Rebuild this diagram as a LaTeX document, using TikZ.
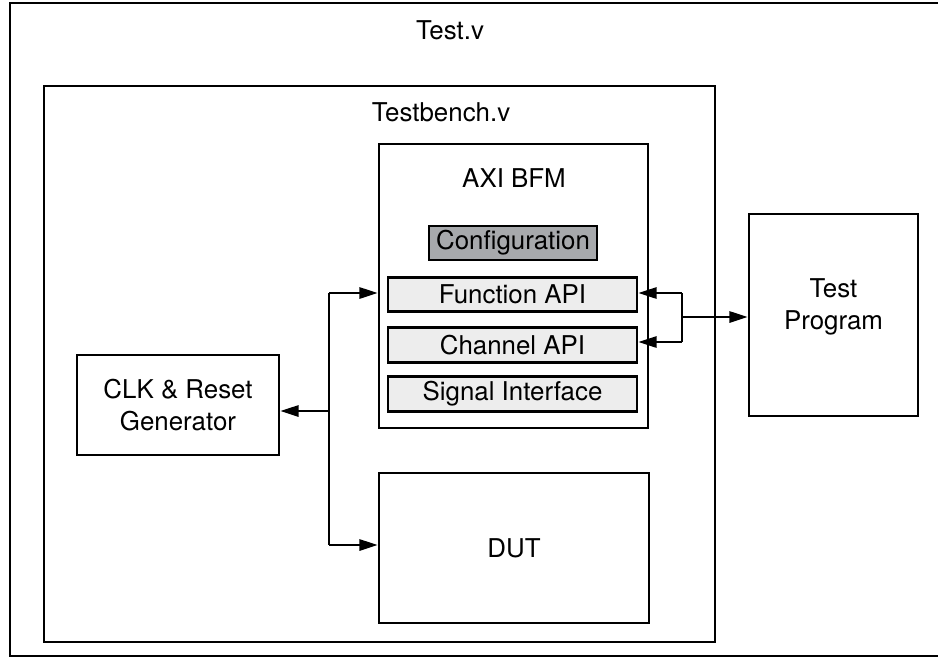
\documentclass[tikz,border=0pt]{standalone}
\usepackage{fontspec}
\setmainfont{TeX Gyre Heros}
\usetikzlibrary{arrows.meta}
\definecolor{cfggray}{HTML}{A7A9AC}
\definecolor{apigray}{HTML}{EDEDED}
\begin{document}
\begin{tikzpicture}[x=0.025cm, y=-0.025cm, font=\fontsize{18.4}{22.5}\selectfont,
    blk/.style={draw, line width=1.9pt, inner sep=0pt, align=center},
    api/.style={blk, fill=apigray, minimum width=6.225cm, minimum height=0.86cm},
    link/.style={line width=1.6pt, -{Triangle[length=13pt, width=8pt]}}]
  \useasboundingbox (0,0) rectangle (938,658);
  \draw[line width=1.8pt] (938,3) -- (10,3) -- (10,656) -- (938,656);
  \node (testv) at (450,30) {Test.v};
  \node[blk, minimum width=16.775cm, minimum height=13.9cm] (tb) at (379.5,364) {};
  \node (tblabel) at (441,112) {Testbench.v};
  \node[blk, minimum width=6.725cm, minimum height=7.1cm] (axi) at (513.5,286) {};
  \node (axilabel) at (514,178) {AXI BFM};
  \node[blk, fill=cfggray, minimum width=4.2cm, minimum height=0.85cm] (cfg) at (513,243) {Configuration};
  \node[api] (func) at (512.5,294.5) {Function API};
  \node[api] (chan) at (512.5,345) {Channel API};
  \node[api] (sig) at (512.5,394) {Signal Interface};
  \node[blk, minimum width=5.05cm, minimum height=2.5cm] (clk) at (178,405) {CLK \& Reset\\Generator};
  \node[blk, minimum width=6.75cm, minimum height=3.75cm] (dut) at (514,548) {DUT};
  \node[blk, minimum width=4.225cm, minimum height=5.05cm] (prog) at (833.5,315) {};
  \node[align=center] (proglabel) at (833.5,307) {Test\\Program};
  \coordinate (bustop) at (329,293);
  \coordinate (busmid) at (329,411);
  \coordinate (busbot) at (329,545);
  \draw[line width=1.6pt] (bustop) -- (busbot);
  \draw[link] (bustop) -- (bustop -| axi.west);
  \draw[link] (busmid) -- (busmid -| clk.east);
  \draw[link] (busbot) -- (busbot -| dut.west);
  \coordinate (brtop) at (682,293);
  \coordinate (brmid) at (682,317);
  \coordinate (brbot) at (682,342);
  \draw[line width=1.6pt] (brtop) -- (brbot);
  \draw[link] (brtop) -- (brtop -| func.east);
  \draw[link] (brbot) -- (brbot -| chan.east);
  \draw[link] (brmid) -- (brmid -| prog.west);
\end{tikzpicture}
\end{document}
